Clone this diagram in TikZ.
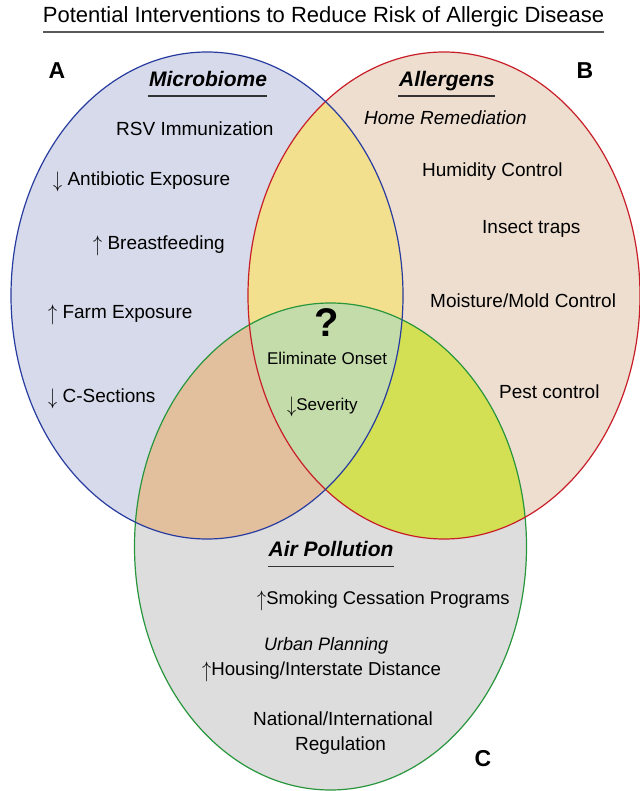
\documentclass[tikz,border=0pt]{standalone}
\usepackage{fontspec}
\usepackage{graphicx}
\setmainfont{Liberation Sans}
\newcommand\myup{\raisebox{-0.1em}{\scalebox{1.05}[1.3]{$\uparrow$}}}
\newcommand\mydn{\raisebox{-0.1em}{\scalebox{1.05}[1.3]{$\downarrow$}}}
\begin{document}
\begin{tikzpicture}[x=1pt,y=-1pt,
  txt/.style={anchor=west,inner sep=0pt,text height=0.72em,text depth=0pt,font=\fontsize{19}{21}\selectfont},
  ctxt/.style={inner sep=0pt,text height=0.72em,text depth=0pt,font=\fontsize{17}{19}\selectfont},
  head/.style={inner sep=0pt,text height=0.72em,text depth=0pt,font=\fontsize{21}{23}\selectfont\bfseries\itshape},
  lett/.style={inner sep=0pt,text height=0.72em,text depth=0pt,font=\fontsize{23}{25}\selectfont\bfseries},
  uline/.style={line width=1.3pt,black!80},
  rad/.style={x radius=196pt,y radius=243.5pt}
]
\definecolor{Afill}{RGB}{214,218,234}
\definecolor{Bfill}{RGB}{238,222,208}
\definecolor{Cfill}{RGB}{221,221,221}
\definecolor{ABfill}{RGB}{242,224,142}
\definecolor{ACfill}{RGB}{226,192,158}
\definecolor{BCfill}{RGB}{212,224,84}
\definecolor{ABCfill}{RGB}{196,220,170}
\definecolor{Aline}{RGB}{40,60,160}
\definecolor{Bline}{RGB}{200,30,40}
\definecolor{Cline}{RGB}{40,150,60}
\useasboundingbox (0,0) rectangle (639,791);
\coordinate (A) at (207,295.5);
\coordinate (B) at (444,295.5);
\coordinate (C) at (330.5,546.5);
% fills
\fill[Afill] (A) ellipse[rad];
\fill[Bfill] (B) ellipse[rad];
\fill[Cfill] (C) ellipse[rad];
\begin{scope}
  \clip (A) ellipse[rad];
  \fill[ABfill] (B) ellipse[rad];
  \fill[ACfill] (C) ellipse[rad];
\end{scope}
\begin{scope}
  \clip (B) ellipse[rad];
  \fill[BCfill] (C) ellipse[rad];
  \clip (A) ellipse[rad];
  \fill[ABCfill] (C) ellipse[rad];
\end{scope}
\draw[Cline,line width=1.2pt] (C) ellipse[rad];
\draw[Bline,line width=1.2pt] (B) ellipse[rad];
\draw[Aline,line width=1.2pt] (A) ellipse[rad];
% title
\node[inner sep=0pt,text height=0.72em,text depth=0pt,font=\fontsize{22}{24}\selectfont] (title) at (323.5,19) {Potential Interventions to Reduce Risk of Allergic Disease};
\draw[line width=2pt,black!65] (43,32.5) -- (604,32.5);
% letters
\node[lett] (la) at (57,75) {A};
\node[lett] (lb) at (585,75) {B};
\node[lett] (lc) at (483,763) {C};
% headings
\node[head] (hA) at (208,83) {Microbiome};
\draw[uline] (148,96) -- (267,96);
\node[head] (hB) at (447,83) {Allergens};
\draw[uline] (398,96) -- (495,96);
\node[head] (hC) at (331,553) {Air Pollution};
\draw[uline] (268,566.5) -- (394,566.5);
% A texts
\node[txt] (a1) at (116,132) {RSV Immunization};
\node[txt] (a2) at (53,182) {\mydn\ Antibiotic Exposure};
\node[txt] (a3) at (93,246) {\myup\ Breastfeeding};
\node[txt] (a4) at (48,315) {\myup\ Farm Exposure};
\node[txt] (a5) at (48,399) {\mydn\ C-Sections};
% B texts
\node[txt,font=\fontsize{19}{21}\selectfont\itshape] (b0) at (364,121) {Home Remediation};
\node[txt] (b1) at (422,173) {Humidity Control};
\node[txt] (b2) at (482,230) {Insect traps};
\node[txt] (b3) at (430,304) {Moisture/Mold Control};
\node[txt] (b4) at (499,395) {Pest control};
% centre
\node[inner sep=0pt,text height=0.72em,text depth=0pt,font=\fontsize{40}{42}\selectfont\bfseries] (q) at (327,333) {?};
\node[ctxt] (c1) at (327,361) {Eliminate Onset};
\node[ctxt,anchor=west] (c2) at (287,407) {\mydn Severity};
% C texts
\node[txt,font=\fontsize{18.4}{20}\selectfont] (p1) at (257,601) {\myup Smoking Cessation Programs};
\node[txt,font=\fontsize{18}{20}\selectfont\itshape] (p2) at (264,647) {Urban Planning};
\node[txt,font=\fontsize{18.7}{20}\selectfont] (p3) at (202,672) {\myup Housing/Interstate Distance};
\node[txt] (p4) at (253,722) {National/International};
\node[txt] (p5) at (295,747) {Regulation};
\end{tikzpicture}
\end{document}
